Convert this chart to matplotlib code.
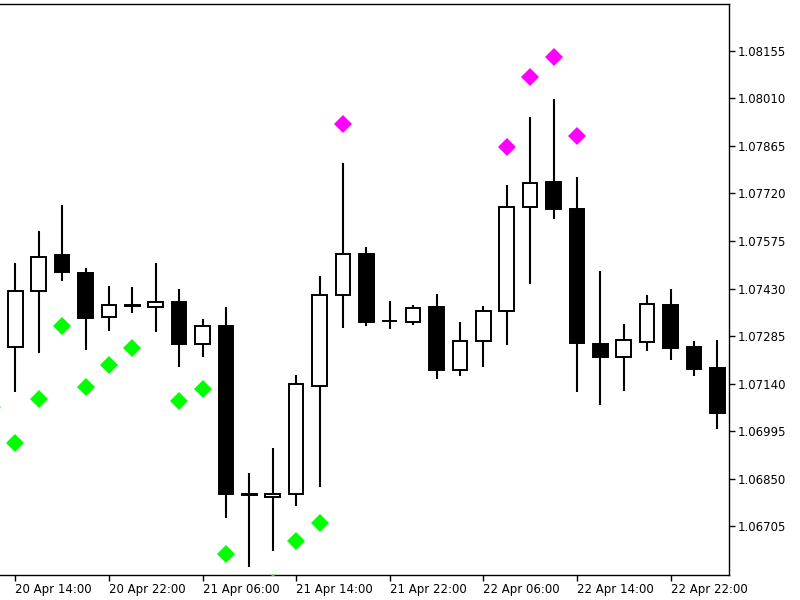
import matplotlib
matplotlib.use("Agg")
import matplotlib.pyplot as plt
import numpy as np

# H2 candles, index -1 = 20 Apr 12:00
bar_index = list(range(-1, 31))
opens = [1.07252, 1.07253, 1.07423, 1.07532, 1.07478, 1.07343, 1.07379, 1.07373,
         1.07389, 1.07262, 1.07317, 1.06804, 1.06794, 1.06803, 1.07133, 1.07411,
         1.07536, 1.07332, 1.07328, 1.07375, 1.07182, 1.07271, 1.07361, 1.07678,
         1.07754, 1.07674, 1.07260, 1.07222, 1.07266, 1.07380, 1.07251, 1.07189]
highs = [1.07548, 1.07509, 1.07606, 1.07685, 1.07492, 1.07438, 1.07434, 1.07509,
         1.07430, 1.07336, 1.07373, 1.06867, 1.06943, 1.07166, 1.07468, 1.07814,
         1.07558, 1.07393, 1.07381, 1.07413, 1.07328, 1.07377, 1.07747, 1.07952,
         1.08009, 1.07769, 1.07484, 1.07322, 1.07411, 1.07430, 1.07269, 1.07273]
lows = [1.07197, 1.07116, 1.07235, 1.07454, 1.07243, 1.07302, 1.07355, 1.07297,
        1.07190, 1.07221, 1.06730, 1.06582, 1.06631, 1.06767, 1.06824, 1.07311,
        1.07316, 1.07306, 1.07319, 1.07154, 1.07164, 1.07190, 1.07257, 1.07444,
        1.07641, 1.07115, 1.07074, 1.07119, 1.07240, 1.07212, 1.07164, 1.07002]
closes = [1.07523, 1.07424, 1.07525, 1.07480, 1.07341, 1.07379, 1.07376, 1.07389,
          1.07261, 1.07316, 1.06803, 1.06802, 1.06804, 1.07138, 1.07411, 1.07536,
          1.07329, 1.07330, 1.07371, 1.07182, 1.07271, 1.07361, 1.07678, 1.07753,
          1.07672, 1.07263, 1.07222, 1.07273, 1.07384, 1.07248, 1.07185, 1.07052]

# indicator markers
green_index = [-1, 0, 1, 2, 3, 4, 5, 7, 8, 9, 11, 12, 13]
green_values = [1.07069, 1.06959, 1.07093, 1.07316, 1.07131, 1.07196, 1.07250,
                1.07087, 1.07125, 1.06621, 1.06532, 1.06661, 1.06715]
magenta_index = [14, 21, 22, 23, 24]
magenta_values = [1.07932, 1.07861, 1.08074, 1.08137, 1.07896]

x_tick_index = [0, 4, 8, 12, 16, 20, 24, 28]
x_tick_labels = ["20 Apr 14:00", "20 Apr 22:00", "21 Apr 06:00", "21 Apr 14:00",
                 "21 Apr 22:00", "22 Apr 06:00", "22 Apr 14:00", "22 Apr 22:00"]
y_ticks = [1.06705, 1.06850, 1.06995, 1.07140, 1.07285, 1.07430,
           1.07575, 1.07720, 1.07865, 1.08010, 1.08155]

fig = plt.figure(figsize=(8, 6), dpi=100)
ax = fig.add_axes([0, 25 / 600, 729 / 800, 571 / 600])

o = np.array(opens); c = np.array(closes)
h = np.array(highs); l = np.array(lows)
xi = np.array(bar_index)
up = c >= o

ax.vlines(xi, l, h, color="black", linewidth=1.5, zorder=2)
bottom = np.minimum(o, c)
height = np.maximum(np.abs(c - o), 0.000005)
ax.bar(xi[up], height[up], bottom=bottom[up], width=0.62, facecolor="white",
       edgecolor="black", linewidth=1.4, zorder=3)
ax.bar(xi[~up], height[~up], bottom=bottom[~up], width=0.62, facecolor="black",
       edgecolor="black", linewidth=1.4, zorder=3)

ax.plot(green_index, green_values, linestyle="none", marker="D", markersize=9,
        color="#00FF00", markeredgewidth=0, zorder=4)
ax.plot(magenta_index, magenta_values, linestyle="none", marker="D", markersize=9,
        color="#FF00FF", markeredgewidth=0, zorder=4)

ax.set_xlim(-0.654, 30.5)
ax.set_ylim(1.065569, 1.082977)

ax.spines["left"].set_visible(False)
for s in ["top", "right", "bottom"]:
    ax.spines[s].set_linewidth(1.0)
    ax.spines[s].set_color("black")

ax.yaxis.tick_right()
ax.set_yticks(y_ticks)
ax.set_yticklabels([f"{v:.5f}" for v in y_ticks])
ax.set_xticks(x_tick_index)
ax.set_xticklabels(x_tick_labels)
ax.tick_params(axis="both", direction="out", length=4, width=1, labelsize=8.5,
               colors="black")
ax.tick_params(axis="y", pad=2)
ax.tick_params(axis="x", pad=2)
for lab in ax.get_xticklabels():
    lab.set_horizontalalignment("left")

fig.savefig("out.png", dpi=100, facecolor="white")
